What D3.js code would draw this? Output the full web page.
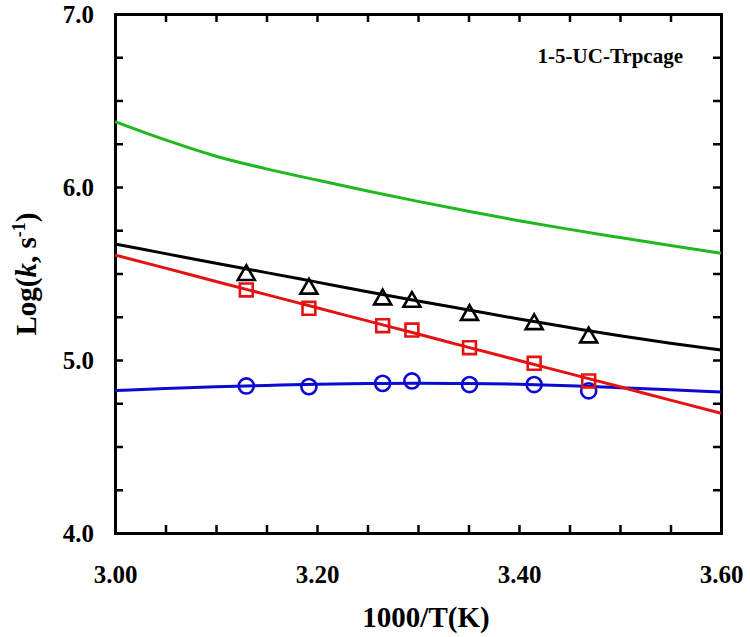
<!DOCTYPE html>
<html>
<head>
<meta charset="utf-8">
<script src="https://cdn.jsdelivr.net/npm/d3@7"></script>
<style>
  html, body { margin: 0; padding: 0; background: #fff; }
  svg { display: block; }
</style>
</head>
<body>
<svg id="chart" width="750" height="637"></svg>
<script>
// ---------- data ----------
const invT = [3.130, 3.192, 3.265, 3.294, 3.351, 3.415, 3.469];
const triangleVals = [5.491, 5.412, 5.350, 5.336, 5.260, 5.207, 5.130];
const squareVals   = [5.405, 5.299, 5.198, 5.173, 5.071, 4.981, 4.879];
const circleVals   = [4.850, 4.846, 4.865, 4.879, 4.858, 4.858, 4.822];

const lineX      = [3.00, 3.05, 3.10, 3.15, 3.20, 3.25, 3.30, 3.35, 3.40, 3.45, 3.50, 3.55, 3.60];
const greenLine  = [6.378, 6.272, 6.178, 6.105, 6.040, 5.977, 5.917, 5.860, 5.805, 5.755, 5.708, 5.662, 5.617];
const blackLine  = [5.671, 5.615, 5.559, 5.505, 5.450, 5.395, 5.341, 5.289, 5.237, 5.188, 5.140, 5.097, 5.058];
const redLine    = [5.607, 5.531, 5.454, 5.378, 5.302, 5.226, 5.150, 5.073, 4.997, 4.921, 4.845, 4.768, 4.692];
const blueLine   = [4.823, 4.835, 4.845, 4.853, 4.860, 4.864, 4.866, 4.864, 4.860, 4.851, 4.840, 4.828, 4.815];

const xMinorTicks = [3.00, 3.05, 3.10, 3.15, 3.20, 3.25, 3.30, 3.35, 3.40, 3.45, 3.50, 3.55, 3.60];
const xMajorTicks = [3.00, 3.20, 3.40, 3.60];
const yMinorTicks = [4.00, 4.25, 4.50, 4.75, 5.00, 5.25, 5.50, 5.75, 6.00, 6.25, 6.50, 6.75, 7.00];
const yMajorTicks = [4.0, 5.0, 6.0, 7.0];

const chartLabel = "1-5-UC-Trpcage";
const xTitle = "1000/T(K)";

// ---------- drawing ----------
const svg = d3.select("#chart");
const L = 115, R = 721, T = 14, B = 533;
const x = d3.scaleLinear().domain([3.0, 3.6]).range([L, R]);
const y = d3.scaleLinear().domain([4.0, 7.0]).range([B, T]);

const FONT = "'Liberation Serif', 'Times New Roman', serif";
const GREEN = "#1fb81f", BLACK = "#000000", RED = "#e41212", BLUE = "#0a0ad2";

const isMajor = (v, arr) => arr.some(m => Math.abs(m - v) < 1e-6);

function styleAxis(g) {
  g.select(".domain").attr("stroke", "#000").attr("stroke-width", 3).attr("stroke-linecap", "square");
  g.selectAll(".tick line").attr("stroke", "#000").attr("stroke-width", 2.5);
  g.selectAll("text").attr("font-family", FONT).attr("font-weight", "bold").attr("fill", "#000");
}

// bottom axis
const gx = svg.append("g").attr("transform", `translate(0,${B})`)
  .call(d3.axisBottom(x).tickValues(xMinorTicks).tickSize(-8).tickSizeOuter(0)
    .tickPadding(0)
    .tickFormat(d => isMajor(d, xMajorTicks) ? d3.format(".2f")(d) : ""));
styleAxis(gx);
gx.selectAll("text").attr("font-size", 25).attr("y", 50).attr("dy", 0);

// top axis
const gxt = svg.append("g").attr("transform", `translate(0,${T})`)
  .call(d3.axisTop(x).tickValues(xMinorTicks).tickSize(-8).tickSizeOuter(0).tickFormat(""));
styleAxis(gxt);

// left axis
const gy = svg.append("g").attr("transform", `translate(${L},0)`)
  .call(d3.axisLeft(y).tickValues(yMinorTicks).tickSize(-8).tickSizeOuter(0)
    .tickPadding(0)
    .tickFormat(d => isMajor(d, yMajorTicks) ? d3.format(".1f")(d) : ""));
styleAxis(gy);
gy.selectAll("text").attr("font-size", 25).attr("x", -21).attr("dy", "0.35em");

// right axis
const gyr = svg.append("g").attr("transform", `translate(${R},0)`)
  .call(d3.axisRight(y).tickValues(yMinorTicks).tickSize(-8).tickSizeOuter(0).tickFormat(""));
styleAxis(gyr);

// lines
const lineGen = vals => d3.line()
  .x((d, i) => x(lineX[i]))
  .y(d => y(d))
  .curve(d3.curveMonotoneX)(vals);

const plot = svg.append("g");
[[greenLine, GREEN], [blackLine, BLACK], [blueLine, BLUE], [redLine, RED]].forEach(([vals, c]) => {
  plot.append("path").attr("d", lineGen(vals)).attr("fill", "none")
    .attr("stroke", c).attr("stroke-width", 3).attr("stroke-linejoin", "round");
});

// markers
function markers(vals, type, size, color) {
  plot.selectAll(null).data(vals).enter().append("path")
    .attr("d", d3.symbol().type(type).size(size)())
    .attr("transform", (d, i) => `translate(${x(invT[i])},${y(d)})`)
    .attr("fill", "none").attr("stroke", color).attr("stroke-width", 2.6);
}
markers(circleVals, d3.symbolCircle, 180, BLUE);
markers(squareVals, d3.symbolSquare, 165, RED);
markers(triangleVals, d3.symbolTriangle, 125, BLACK);

// inner label
svg.append("text").attr("x", 683).attr("y", 63).attr("text-anchor", "end")
  .attr("font-family", FONT).attr("font-weight", "bold").attr("font-size", 21)
  .text(chartLabel);

// x title
svg.append("text").attr("x", 426).attr("y", 627).attr("text-anchor", "middle")
  .attr("font-family", FONT).attr("font-weight", "bold").attr("font-size", 29)
  .text(xTitle);

// y title
const yt = svg.append("text")
  .attr("transform", "translate(36,274) rotate(-90)")
  .attr("text-anchor", "middle")
  .attr("font-family", FONT).attr("font-weight", "bold").attr("font-size", 29);
yt.append("tspan").text("Log(");
yt.append("tspan").attr("font-style", "italic").text("k");
yt.append("tspan").text(", s");
yt.append("tspan").attr("font-size", 18).attr("dy", -11).text("-1");
yt.append("tspan").attr("dy", 11).text(")");
</script>
</body>
</html>
